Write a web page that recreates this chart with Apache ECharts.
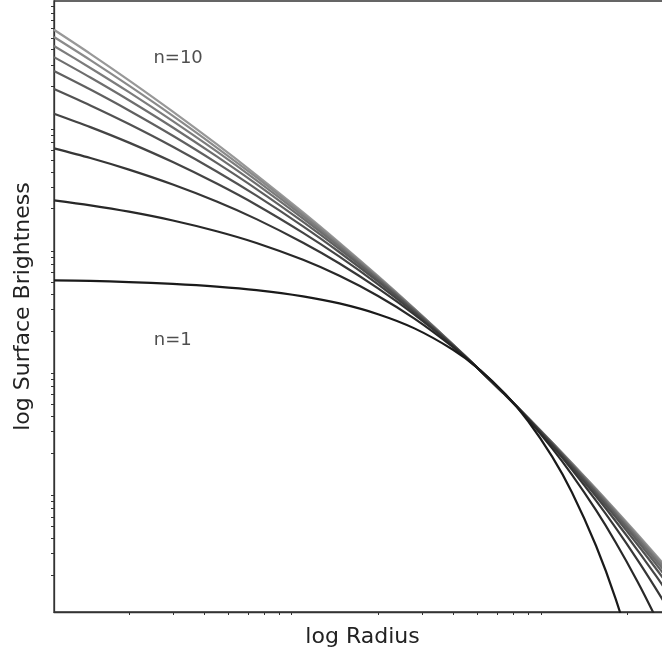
<!DOCTYPE html>
<html>
<head>
<meta charset="utf-8">
<script src="https://cdn.jsdelivr.net/npm/echarts@6/dist/echarts.min.js"></script>
<style>
  html, body { margin: 0; padding: 0; background: #fff; }
  #chart { width: 662px; height: 654px; }
</style>
</head>
<body>
<div id="chart"></div>
<script>
// radius samples (shared by every profile)
const radius = [0.1, 0.14, 0.2, 0.3, 0.45, 0.65, 1, 1.4, 2, 2.8, 4, 5, 6.5, 8, 10, 12, 15, 18, 22, 26, 30]

// log10 surface brightness, one list per Sersic index
const n1 = [0.714, 0.709, 0.700, 0.685, 0.663, 0.634, 0.583, 0.525, 0.437, 0.321, 0.146, 0, -0.219, -0.437, -0.729, -1.020, -1.458, -1.895, -2.478, -3.061, -3.644]
const n2 = [1.369, 1.328, 1.276, 1.204, 1.116, 1.020, 0.882, 0.751, 0.586, 0.401, 0.168, 0, -0.224, -0.422, -0.661, -0.876, -1.167, -1.431, -1.750, -2.042, -2.312]
const n3 = [1.794, 1.715, 1.620, 1.498, 1.359, 1.215, 1.022, 0.852, 0.648, 0.433, 0.177, 0, -0.225, -0.418, -0.640, -0.834, -1.089, -1.312, -1.573, -1.804, -2.012]
const n4 = [2.078, 1.968, 1.841, 1.682, 1.506, 1.331, 1.103, 0.908, 0.682, 0.449, 0.181, 0, -0.226, -0.415, -0.630, -0.815, -1.053, -1.257, -1.493, -1.699, -1.882]
const n5 = [2.279, 2.145, 1.993, 1.807, 1.605, 1.407, 1.156, 0.944, 0.703, 0.460, 0.183, 0, -0.226, -0.414, -0.624, -0.803, -1.032, -1.226, -1.448, -1.640, -1.810]
const n6 = [2.427, 2.275, 2.104, 1.897, 1.675, 1.461, 1.192, 0.969, 0.718, 0.467, 0.185, 0, -0.227, -0.413, -0.621, -0.796, -1.018, -1.206, -1.419, -1.603, -1.764]
const n7 = [2.541, 2.374, 2.188, 1.965, 1.728, 1.501, 1.219, 0.987, 0.728, 0.472, 0.186, 0, -0.227, -0.412, -0.618, -0.791, -1.009, -1.192, -1.399, -1.576, -1.732]
const n8 = [2.632, 2.452, 2.254, 2.017, 1.769, 1.532, 1.240, 1.001, 0.736, 0.476, 0.187, 0, -0.227, -0.412, -0.616, -0.787, -1.002, -1.182, -1.384, -1.557, -1.708]
const n9 = [2.705, 2.516, 2.307, 2.060, 1.801, 1.556, 1.256, 1.012, 0.743, 0.479, 0.188, 0, -0.227, -0.411, -0.614, -0.784, -0.996, -1.174, -1.373, -1.543, -1.690]
const n10 = [2.765, 2.568, 2.351, 2.095, 1.828, 1.576, 1.270, 1.021, 0.748, 0.481, 0.189, 0, -0.227, -0.411, -0.613, -0.781, -0.992, -1.167, -1.364, -1.531, -1.676]

// minor tick positions (no major ticks, no labels in the picture)
const xMinorTicks = [0.2, 0.3, 0.4, 0.5, 0.6, 0.7, 0.8, 0.9, 2, 3, 4, 5, 6, 7, 8, 9, 20]
const yMinorTicks = [0.02, 0.03, 0.04, 0.05, 0.06, 0.07, 0.08, 0.09,
  0.2, 0.3, 0.4, 0.5, 0.6, 0.7, 0.8, 0.9,
  2, 3, 4, 5, 6, 7, 8, 9,
  20, 30, 40, 50, 60, 70, 80, 90,
  200, 300, 400, 500, 600, 700, 800, 900]

// in-plot annotations: [radius, brightness, text]
const notes = [[0.315, 340, 'n=10'], [0.3, 1.67, 'n=1']]

const profiles = [n1, n2, n3, n4, n5, n6, n7, n8, n9, n10]
const greys = ['#1a1a1a', '#282828', '#363636', '#444444', '#525252',
  '#606060', '#6e6e6e', '#7c7c7c', '#8a8a8a', '#989898']

const chart = echarts.init(document.getElementById('chart'))

const axisText = { color: '#222', fontSize: 22, fontFamily: 'DejaVu Sans' }

chart.setOption({
  animation: false,
  grid: {
    left: 54, top: 1, width: 617, height: 611,
    outerBoundsMode: 'none',
    show: true, borderColor: '#333', borderWidth: 1.3
  },
  xAxis: {
    type: 'log', min: 0.1, max: 30,
    name: 'log Radius', nameLocation: 'middle', nameGap: 14,
    nameTextStyle: axisText,
    axisLine: { show: true, lineStyle: { color: '#333', width: 1.3 } },
    axisTick: { show: true, customValues: xMinorTicks, length: 3, lineStyle: { color: '#333' } },
    axisLabel: { show: false },
    splitLine: { show: false },
    minorTick: { show: false }
  },
  yAxis: {
    type: 'log', min: 0.01, max: 1000,
    name: 'log Surface Brightness', nameLocation: 'middle', nameGap: 20,
    nameTextStyle: axisText,
    axisLine: { show: true, lineStyle: { color: '#333', width: 1.3 } },
    axisTick: { show: true, customValues: yMinorTicks, length: 3, lineStyle: { color: '#333' } },
    axisLabel: { show: false },
    splitLine: { show: false },
    minorTick: { show: false }
  },
  series: profiles.map((p, i) => ({
    name: 'n=' + (i + 1),
    type: 'line',
    data: radius.map((r, j) => [r, Math.pow(10, p[j])]),
    showSymbol: false,
    smooth: 0.3,
    clip: true,
    z: 20 - i,
    lineStyle: { color: greys[i], width: 2.2 }
  })).concat([{
    type: 'scatter',
    data: notes,
    symbolSize: 0,
    label: {
      show: true, position: 'inside',
      formatter: p => p.value[2],
      color: '#222', fontSize: 18, fontFamily: 'DejaVu Sans'
    }
  }])
})
</script>
</body>
</html>
